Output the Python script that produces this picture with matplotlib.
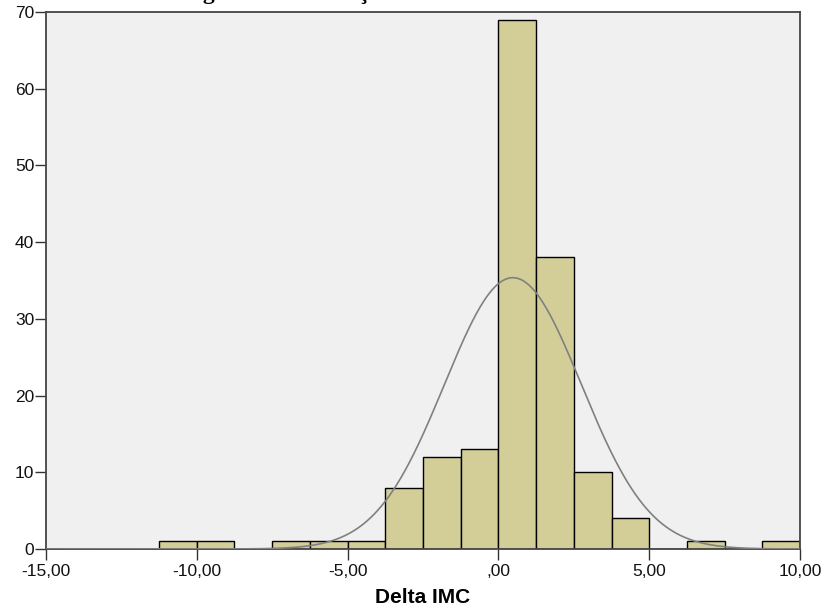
import numpy as np
import matplotlib
matplotlib.use("Agg")
import matplotlib.pyplot as plt
from matplotlib.ticker import FuncFormatter

# Histogram data (bin edges and counts)
bin_edges = [-11.25, -10.0, -8.75, -7.5, -6.25, -5.0, -3.75, -2.5, -1.25,
             0.0, 1.25, 2.5, 3.75, 5.0, 6.25, 7.5, 8.75, 10.0]
counts = [1, 1, 0, 1, 1, 1, 8, 12, 13, 69, 38, 10, 4, 0, 1, 0, 1]

# Fitted normal curve parameters
fit_mean = 0.48
fit_sd = 2.27

x_ticks = [-15, -10, -5, 0, 5, 10]
y_ticks = [0, 10, 20, 30, 40, 50, 60, 70]
x_label = "Delta IMC"
title_text = "Histograma da variação do IMC"

fig = plt.figure(figsize=(8.24, 6.12), dpi=100)
ax = fig.add_axes([46/824, 63/612, (800-46)/824, (549-12)/612])
ax.set_facecolor("#F0F0F0")

edges = np.array(bin_edges)
widths = np.diff(edges)
ax.bar(edges[:-1], counts, width=widths, align="edge",
       color="#D3CE98", edgecolor="black", linewidth=1.0, zorder=2)

n_total = sum(counts)
bw = widths[0]
xs = np.linspace(-15, 10, 600)
ys = n_total * bw / (fit_sd * np.sqrt(2*np.pi)) * np.exp(-0.5*((xs-fit_mean)/fit_sd)**2)
ax.plot(xs, ys, color="#808080", linewidth=1.2, zorder=3)

ax.set_xlim(-15, 10)
ax.set_ylim(0, 70)
ax.set_xticks(x_ticks)
ax.set_yticks(y_ticks)

def fmt(v, pos):
    if v == 0:
        return ",00"
    return f"{v:.2f}".replace(".", ",")
ax.xaxis.set_major_formatter(FuncFormatter(fmt))

for lab in ax.get_xticklabels() + ax.get_yticklabels():
    lab.set_family(["Liberation Sans", "DejaVu Sans"])
ax.tick_params(axis="both", labelsize=12.5, color="#333333", length=8, width=1.0,
               pad=0.5, labelcolor="#111111")
ax.tick_params(axis="x", pad=3)
for s in ax.spines.values():
    s.set_color("#444444")
    s.set_linewidth(1.3)

ax.set_xlabel(x_label, fontsize=15, fontweight="bold",
              family=["Liberation Sans", "DejaVu Sans"], labelpad=6)

fig.text(0.38, 1 + 1.5/612, title_text, ha="center", va="baseline",
         fontsize=17, family=["Liberation Serif", "DejaVu Serif"], fontweight="bold")

fig.savefig("out.png", dpi=100)
